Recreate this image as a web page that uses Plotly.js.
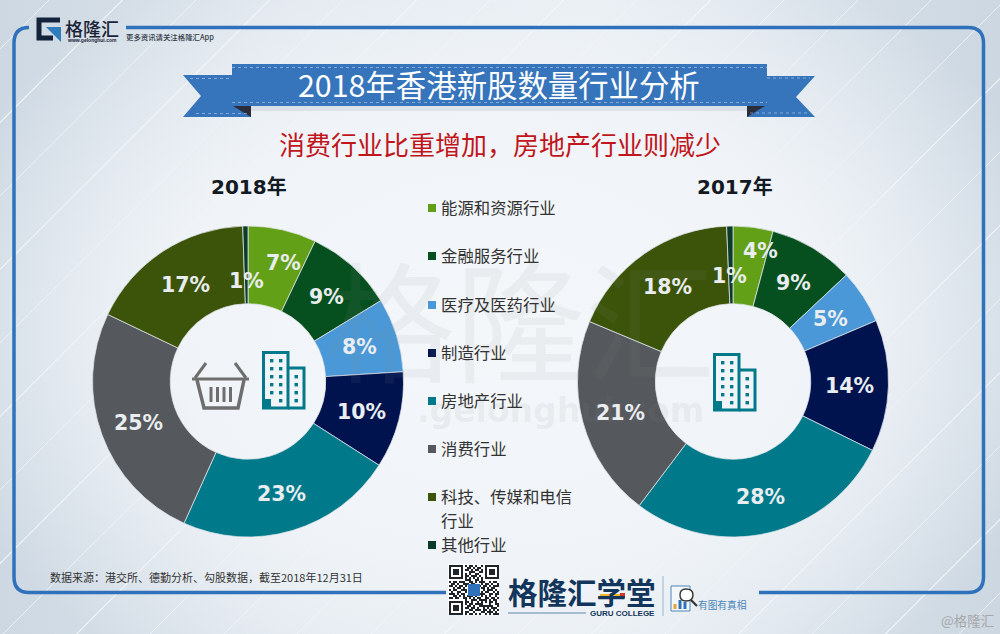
<!DOCTYPE html>
<html><head><meta charset="utf-8">
<script src="https://cdn.plot.ly/plotly-3.0.1.min.js"></script>
<style>
html,body{margin:0;padding:0;width:1000px;height:634px;overflow:hidden}
body{background:
 radial-gradient(ellipse 590px 420px at 50% 52%, #f4f7fa 0%, #f0f4f8 55%, rgba(235,240,245,0) 100%),
 repeating-linear-gradient(135deg, rgba(255,255,255,0) 0 34px, rgba(255,255,255,.55) 34px 35px, rgba(255,255,255,0) 35px 52px),
 linear-gradient(90deg,#cdd8e2 0%,#dfe6ed 30%,#e6ecf2 60%,#ccd7e1 100%);}
#c{width:1000px;height:634px}
</style></head><body><div id="c"></div>
<script>
const categories=['能源和资源行业','金融服务行业','医疗及医药行业','制造行业','房地产行业','消费行业','科技、传媒和电信<br>行业','其他行业'];
const values2018=[7.1,9.2,7.7,10.05,22.7,25.35,17.36,0.54];
const values2017=[4.15,8.85,5.6,13.7,28,21,18.05,0.65];
// percentages as printed on the slices
const printed2018=[7,9,8,10,23,25,17,1];
const printed2017=[4,9,5,14,28,21,18,1];
const sliceColors=['#62a018','#06501f','#4a98d8','#00134f','#007a8b','#55585c','#3c5409','#0b3c2a'];
const labelPos2018=[[283,263],[326,297],[359,347],[361,412],[281,494],[138,423],[185,285],[246,281]];
const labelPos2017=[[760,251],[793,283],[830,319],[849,386],[760,497],[620,413],[667,287],[729,276]];
const legendY=[207,255,304,352,400,448,496,544];

const W=1000,H=634;
const X=x=>x/W, Y=y=>1-y/H;
const CJK='"Noto Sans CJK SC","Noto Sans",sans-serif';
function P(s){let i=0;return s.trim().split(/\s+/).map(t=>{if(/[A-Za-z]/.test(t)){i=0;return t;}const v=i%2===0?X(+t):Y(+t);i++;return v.toFixed(5);}).join(' ');}
function path(s,fill,line,lw){return {type:'path',xref:'paper',yref:'paper',layer:'below',path:P(s),fillcolor:fill||'rgba(0,0,0,0)',line:{color:line||'rgba(0,0,0,0)',width:lw||0}};}
function rect(x0,y0,x1,y1,fill){return path(`M ${x0} ${y0} L ${x1} ${y0} L ${x1} ${y1} L ${x0} ${y1} Z`,fill);}
function note(text,x,y,size,color,o){o=o||{};return {text,x:X(x),y:Y(y),xref:'paper',yref:'paper',showarrow:false,xanchor:o.anchor||'center',yanchor:'middle',align:o.anchor==='left'?'left':'center',font:{family:o.family||CJK,size,color,weight:o.weight||400}};}

const shapes=[],ann=[];
// watermark
ann.push(note('格隆汇',520,315,130,'rgba(135,140,145,.09)'));
ann.push(note('.gelonghui.com',560,410,33,'rgba(135,140,145,.10)',{family:'"DejaVu Sans",sans-serif',weight:700}));
// frame
const blue='#2f72bb';
shapes.push(path('M 126 27.5 L 968 27.5 Q 983.5 27.5 983.5 43 L 983.5 577 Q 983.5 592.5 968 592.5 L 759 592.5',null,blue,3.5));
shapes.push(path('M 29 27.5 Q 14 27.5 14 43 L 14 577 Q 14 592.5 29 592.5 L 446 592.5',null,blue,3.5));
// ribbon
const rib='#3674bb';
shapes.push(rect(240,106,760,111,'rgba(60,80,110,.10)'));
shapes.push(path('M 183 75 L 251 75 L 251 117 L 183 117 L 201 96 Z',rib));
shapes.push(path('M 747 76 L 815 76 L 796 97 L 815 117 L 747 117 Z',rib));
shapes.push(rect(232,64,767,106,rib));
shapes.push(path('M 233 106 L 251 106 L 251 117 Z','#2a2e3a'));
shapes.push(path('M 747 106 L 765 106 L 747 117 Z','#2a2e3a'));
[[232,767,67.5],[232,767,102.5],[190,232,78.5],[196,250,113.5],[767,810,78],[750,808,113]].forEach(l=>{
  const s=path(`M ${l[0]} ${l[2]} L ${l[1]} ${l[2]}`,null,'rgba(255,255,255,.5)',.8);s.line.dash='dot';shapes.push(s);});
ann.push(note('2018年香港新股数量行业分析',498.5,84,30.4,'#ffffff'));
ann.push(note('消费行业比重增加，房地产行业则减少',499.5,143,26,'#c0161c'));
// logo
shapes.push(path('M 60 20 L 39 20 L 39 38 L 53 38','rgba(0,0,0,0)','#14233c',5));
shapes.push(path('M 46 27 L 61 27 L 61 42 Z','#2f7dbd'));
ann.push(note('格隆汇',92,28,18,'#1a2436',{weight:500}));
ann.push(note('www.gelonghui.com',92,40,5,'#1a2436',{family:'"Liberation Sans",sans-serif',weight:700}));
ann.push(note('更多资讯请关注格隆汇App',170,37,7.4,'#333a48',{weight:500}));
// year titles
const yearFont={family:'"DejaVu Sans","Noto Sans CJK SC",sans-serif',weight:700};
ann.push(note('2018年',249,187,20,'#141a24',yearFont));
ann.push(note('2017年',735,187,20,'#141a24',yearFont));
// pie labels
const pieFont={family:'"DejaVu Sans",sans-serif',weight:700};
printed2018.forEach((v,i)=>ann.push(note(v+'%',labelPos2018[i][0],labelPos2018[i][1],20.5,'#e9edef',pieFont)));
printed2017.forEach((v,i)=>ann.push(note(v+'%',labelPos2017[i][0],labelPos2017[i][1],20.5,'#e9edef',pieFont)));
// legend
categories.forEach((c,i)=>{
  shapes.push(rect(428,legendY[i]-3,436,legendY[i]+5,sliceColors[i]));
  const parts=c.split('<br>');
  parts.forEach((p,k)=>ann.push(note(p,438.5,legendY[i]+k*24,16.4,'#333',{anchor:'left'})));
});
// icons
function building(x,y){const c='#007a8b';
  shapes.push(path(`M ${x+1.5} ${y+57} L ${x+1.5} ${y+1.5} L ${x+26} ${y+1.5} L ${x+26} ${y+57} Z`,null,c,3));
  shapes.push(path(`M ${x+26} ${y+17} L ${x+42} ${y+17} L ${x+42} ${y+57} L ${x+26} ${y+57}`,null,c,3));
  for(let r=0;r<6;r++){[8,17].forEach(d=>{ if(r<5||d===17) shapes.push(rect(x+d,y+8+r*8,x+d+3.4,y+11.4+r*8,c));});}
  for(let r=0;r<4;r++) shapes.push(rect(x+32.5,y+24+r*8,x+36,y+27.4+r*8,c));
  shapes.push(rect(x+1.5,y+48,x+9,y+57,c));
}
building(262,351);building(713,353);
const g='#6e6e6e';
shapes.push(path('M 192 379 L 249 379',null,g,3));
shapes.push(path('M 197 380 L 204 408 L 238 408 L 244 380',null,g,3.5));
shapes.push(path('M 206 363 L 195 378',null,g,3));
shapes.push(path('M 235 363 L 246 378',null,g,3));
[211,217.5,224,230.5].forEach(x=>shapes.push(path(`M ${x} 387 L ${x} 402`,null,g,3)));
// source
ann.push(note('数据来源：港交所、德勤分析、勾股数据，截至2018年12月31日',48,577,11,'#333',{anchor:'left'}));
// QR
const qrRows=[
'1111111010110100101111111','1000001001101011001000001','1011101011010110101011101','1011101000111001101011101','1011101010100110001011101','1000001011011101001000001','1111111010101010101111111',
'0000000011100110100000000','1011011100110101110010110','0110100111011000101101001','1101011010000001011010111','0010110100000000110101100','1011001110000000010111010','0100110010000000101100101','1110101100000001110011011','0011010101110100101010010','1101100110101011001101101',
'0000000010011101111010110','1111111011010010101011010','1000001010110111100010011','1011101001101001111111001','1011101011011010010101110','1011101000110111011010101','1000001011001000110111010','1111111010110101001010111'];
shapes.push(rect(448,564,499,615,'#ffffff'));
let qr='';qrRows.forEach((r,j)=>{[...r].forEach((b,i)=>{if(b==='1'){const x=449+i*2,y=565+j*2;qr+=`M ${x} ${y} L ${x+2} ${y} L ${x+2} ${y+2} L ${x} ${y+2} Z `;}});});
shapes.push(path(qr,'#20252c'));
shapes.push(rect(468,584,480,596,'#2f72bb'));
// brand
ann.push(note('格隆汇学堂',581.5,591,29.5,'#12355b',{weight:700}));
shapes.push(rect(600,594,624,597,'#f0b428'));
shapes.push(rect(620,593,625,598,'#d43a2a'));
shapes.push(path('M 508 613 L 586 613',null,'#5f86ad',1.2));
ann.push(note('GURU COLLEGE',622,613,8,'#12355b',{family:'"Liberation Sans",sans-serif',weight:700}));
shapes.push(path('M 663 576 L 663 616',null,'#9bb5cc',1));
shapes.push(path('M 671 586 L 690 586 L 690 611 L 671 611 Z','#f4f7fa','#4a86bb',1));
[[675,604],[680,600],[685,602]].forEach((b,i)=>shapes.push(rect(b[0]-1.5,b[1],b[0]+1.5,609,['#e8a030','#2f72bb','#2f72bb'][i])));
shapes.push(path('M 686 589 Q 693 589 693 595 Q 693 601 686 601 Q 680 601 680 595 Q 680 589 686 589 Z','#ffffff','#333',1.4));
shapes.push(path('M 691 600 L 697 606',null,'#333',2.2));
ann.push(note('有图有真相',722,605,9.7,'#4a86bb'));
ann.push(note('@格隆汇',967,620,13.5,'#a6a8aa'));

function pie(values,cx,name){return {type:'pie',name,labels:categories,values,sort:false,direction:'clockwise',rotation:0,hole:.5,textinfo:'none',hoverinfo:'label+percent',
  marker:{colors:sliceColors,line:{color:'rgba(225,230,235,.75)',width:1}},
  domain:{x:[X(cx-155.5),X(cx+155.5)],y:[Y(537),Y(226)]},showlegend:false};}
Plotly.newPlot('c',[pie(values2018,248,'2018年'),pie(values2017,733,'2017年')],{
  width:W,height:H,margin:{l:0,r:0,t:0,b:0},paper_bgcolor:'rgba(0,0,0,0)',plot_bgcolor:'rgba(0,0,0,0)',showlegend:false,shapes,annotations:ann
},{displayModeBar:false,staticPlot:true});
</script></body></html>
